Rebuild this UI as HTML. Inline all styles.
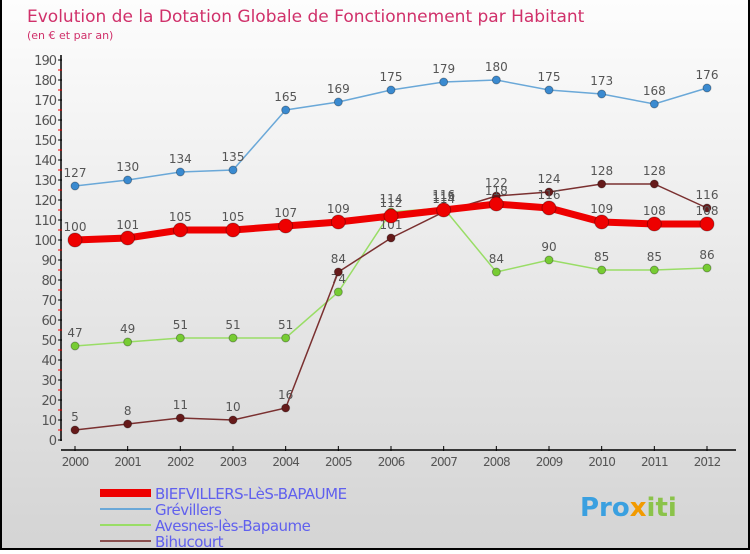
<!DOCTYPE html>
<html><head><meta charset="utf-8"><style>
body{margin:0;width:750px;height:550px;overflow:hidden;font-family:"DejaVu Sans","Liberation Sans",sans-serif}
</style></head><body>
<svg width="750" height="550" xmlns="http://www.w3.org/2000/svg">
<defs><linearGradient id="bg" x1="0" y1="0" x2="0" y2="1"><stop offset="0" stop-color="#fdfdfd"/><stop offset="1" stop-color="#d4d4d4"/></linearGradient></defs>
<rect x="0" y="0" width="750" height="550" fill="url(#bg)"/>
<path d="M1 0 V549 H749 V0" fill="none" stroke="#000" stroke-width="2"/>
<text x="27" y="22" font-size="17" fill="#d0306a">Evolution de la Dotation Globale de Fonctionnement par Habitant</text>
<text x="27" y="39" font-size="11" fill="#d0306a">(en € et par an)</text>
<g id="axes"></g><g id="series"></g><g id="legend"></g>
<text x="580" y="516" font-size="26" font-weight="bold" fill="#3aa0e0">Pro<tspan fill="#f29a00">x</tspan><tspan fill="#8bc34a">iti</tspan></text>
</svg>
<script>
const years=[2000,2001,2002,2003,2004,2005,2006,2007,2008,2009,2010,2011,2012];
const yTicks=[0,10,20,30,40,50,60,70,80,90,100,110,120,130,140,150,160,170,180,190];
const biefvillers=[100,101,105,105,107,109,112,115,118,116,109,108,108];
const grevillers=[127,130,134,135,165,169,175,179,180,175,173,168,176];
const avesnes=[47,49,51,51,51,74,114,116,84,90,85,85,86];
const bihucourt=[5,8,11,10,16,84,101,114,122,124,128,128,116];
const NS="http://www.w3.org/2000/svg";
const X=i=>75+i*(707-75)/12;
const Y=v=>440-v*2;
function el(t,a,p){const e=document.createElementNS(NS,t);for(const k in a)e.setAttribute(k,a[k]);p.appendChild(e);return e;}
const ax=document.getElementById('axes');
let yl=el('line',{x1:61,y1:55,x2:61,y2:441,stroke:'#000','stroke-width':1.5},ax);


yTicks.forEach((v,k)=>{
 el('line',{x1:58,y1:Y(v),x2:62,y2:Y(v),stroke:'#000'},ax);
 if(k<yTicks.length-1) el('line',{x1:58,y1:Y(v+5),x2:62,y2:Y(v+5),stroke:'#e00'},ax);
 const t=el('text',{x:56,y:Y(v)+5,'font-size':13,fill:'#555','text-anchor':'end','letter-spacing':'-1'},ax);t.textContent=v;
 
 
});
let xl=el('line',{x1:61,y1:450,x2:736,y2:450,stroke:'#000','stroke-width':1.5},ax);


years.forEach((y,i)=>{
 el('line',{x1:X(i),y1:446,x2:X(i),y2:451,stroke:'#000'},ax);
 const t=el('text',{x:X(i),y:466,'font-size':12,fill:'#555','text-anchor':'middle','letter-spacing':'-1'},ax);t.textContent=y;
 
 
});
const sg=document.getElementById('series');
function series(d,color,w,r,name,dot){
 const g=el('g',{},sg);
 
 
 el('polyline',{points:d.map((v,i)=>X(i)+','+Y(v)).join(' '),fill:'none',stroke:color,'stroke-width':w},g);
 d.forEach((v,i)=>{
  const c=el('circle',{cx:X(i),cy:Y(v),r:r,fill:dot,stroke:'rgba(0,0,0,0.3)'},g);
  
  
  const t=el('text',{x:X(i),y:Y(v)-9,'font-size':12,fill:'#555','text-anchor':'middle'},g);t.textContent=v;
  
  
 });
}
series(grevillers,'#6aa8d8',1.5,4,'series-grevillers','#3a8ad0');
series(avesnes,'#99dd66',1.5,4,'series-avesnes','#77cc33');
series(bihucourt,'#7a3030',1.5,4,'series-bihucourt','#661a1a');
series(biefvillers,'#ee0000',7,7,'series-biefvillers','#ee0000');
const lg=document.getElementById('legend');
[['BIEFVILLERS-LèS-BAPAUME','#ee0000',8],['Grévillers','#6aa8d8',2],['Avesnes-lès-Bapaume','#99dd66',2],['Bihucourt','#8a5050',2]].forEach((e,i)=>{
 const yy=493+i*16;
 const l=el('line',{x1:100,y1:yy,x2:151,y2:yy,stroke:e[1],'stroke-width':e[2]},lg);
 
 
 const t=el('text',{x:155,y:yy+6,'font-size':15,fill:'#6060ee','letter-spacing':'-0.5'},lg);t.textContent=e[0];
 
 
});
</script>
</body></html>
